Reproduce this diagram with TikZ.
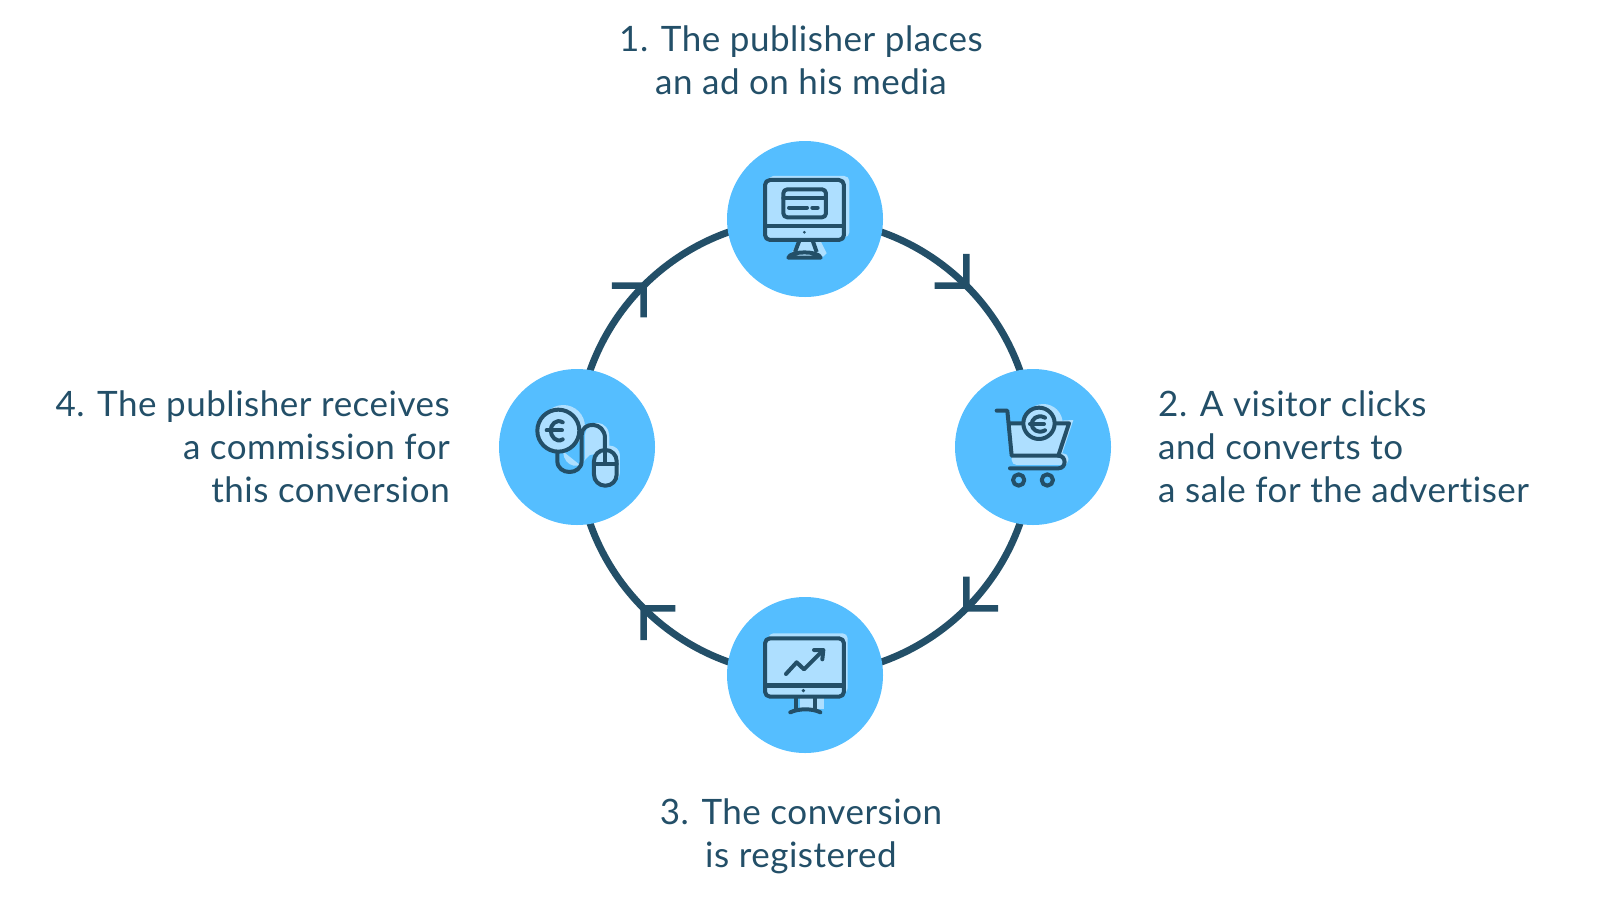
\documentclass[tikz,border=0pt]{standalone}
\usepackage{fontspec}
\setmainfont[LetterSpace=1.5,Ligatures=NoCommon]{Lato}
\usetikzlibrary{backgrounds,decorations.markings}
\definecolor{dk}{HTML}{234F68}
\definecolor{blu}{HTML}{55BEFF}
\definecolor{lit}{HTML}{AEDFFF}
\tikzset{
  x=1pt,y=-1pt,
  disc/.style={circle,fill=blu,draw=none,minimum size=156pt,inner sep=0pt},
  lbl/.style={text=dk,inner sep=0pt,font=\fontsize{35}{43}\selectfont},
  ringarc/.style={draw=dk,line width=7pt,postaction={decorate},
    decoration={markings,mark=at position 0.5 with {
      \draw[dk,line width=6.5pt,line cap=butt,line join=miter] (-22.5,22.5)--(0,0)--(-22.5,-22.5);}}},
  ico/.style={draw=dk,line width=4pt,line cap=round,line join=round},
  zoomed/.style={x=0.3333pt,y=-0.3333pt},
}
\begin{document}
\begin{tikzpicture}
\useasboundingbox (0,0) rectangle (1600,900);
\node[disc] (ntop) at (805,219) {};
\node[disc] (nright) at (1033,447) {};
\node[disc] (nbottom) at (805,675) {};
\node[disc] (nleft) at (577,447) {};
\begin{pgfonlayer}{background}
\path[ringarc] (ntop.center) to[out=0,in=90] (nright.center);
\path[ringarc] (nright.center) to[out=-90,in=0] (nbottom.center);
\path[ringarc] (nbottom.center) to[out=180,in=-90] (nleft.center);
\path[ringarc] (nleft.center) to[out=90,in=180] (ntop.center);
\end{pgfonlayer}
% labels
\node[lbl,align=center] (t1) at (801,60) {1. The publisher places\\an ad on his media};
\node[lbl,align=left,anchor=west] (t2) at (1158,447) {2. A visitor clicks\\and converts to\\a sale for the advertiser};
\node[lbl,align=center] (t3) at (801,836.5) {3. The conversion\\is registered};
\node[lbl,align=right,anchor=east] (t4) at (450,447) {4. The publisher receives\\a commission for\\this conversion};
% icon 1
\begin{scope}[shift={(700,130)},zoomed]
\fill[lit,rounded corners=5pt] (205,138) rectangle (448,322);
\fill[lit] (300,320)--(355,320)--(380,370)--(370,380)--(270,380)--cycle;
\draw[ico,fill=lit,rounded corners=5pt] (195,150) rectangle (432,330);
\draw[ico] (197,287)--(430,287);
\draw[ico,line cap=butt] (298,332) -- (285,366) (338,332) -- (350,366);
\draw[ico] (265,383) .. controls (272,362) and (355,362) .. (362,383) -- cycle;
\fill[dk] (313,307) circle (4.5);
\draw[ico,rounded corners=4pt] (250,178) rectangle (378,262);
\draw[ico] (250,205)--(378,205);
\draw[ico] (267,233)--(321,233) (337,233)--(353,233);
\end{scope}
% icon 2
\begin{scope}[shift={(930,355)},zoomed]
\fill[lit] (340,205) circle (58);
\fill[lit] (240,205)--(430,195)--(395,300)--(245,300)--cycle;
\fill[lit,rounded corners=5pt] (245,295) rectangle (415,330);
\draw[ico] (237,205)--(279,205) (375,205)--(417,205)--(385,302);
\draw[ico] (200,167)--(232,167)--(245,302)--(385,302) .. controls (410,302) and (410,340) .. (385,340) -- (240,340);
\draw[ico,fill=lit] (327,205) circle (47);
\draw[ico] (345,188) .. controls (320,175) and (305,195) .. (305,207) .. controls (305,222) and (322,238) .. (345,226);
\draw[ico] (300,207)--(342,207);
\draw[ico] (266,375) circle (17) (352,375) circle (17);
\end{scope}
% icon 3
\begin{scope}[shift={(700,580)},zoomed]
\fill[lit,rounded corners=5pt] (205,160) rectangle (443,340);
\fill[lit] (300,340) rectangle (372,388);
\draw[ico,fill=lit,rounded corners=5pt] (195,175) rectangle (432,350);
\draw[ico,line width=5pt,line cap=butt] (197,315)--(430,315);
\fill[dk] (310,332) circle (5.5);
\draw[ico] (258,282)--(290,247)--(312,268)--(368,212);
\draw[ico] (342,210)--(370,210)--(367,238);
\draw[ico,line cap=butt] (288,352)--(288,390) (345,352)--(345,390);
\draw[ico] (271,397) .. controls (295,385) and (338,385) .. (361,397);
\end{scope}
% icon 4
\begin{scope}[shift={(480,355)},zoomed]
\fill[lit] (250,215) circle (65);
\fill[lit] (250,290) .. controls (250,340) and (310,345) .. (315,310) -- (315,240) .. controls (320,190) and (390,190) .. (388,250) -- (388,290) -- (330,300) -- (300,330) -- cycle;
\fill[lit,rounded corners=10pt] (352,272) rectangle (420,382);
\draw[ico] (232,290)--(232,318) .. controls (232,362) and (305,362) .. (305,318) -- (305,240) .. controls (305,198) and (375,198) .. (375,250) -- (375,285);
\draw[ico,fill=lit] (235,227) circle (63);
\draw[ico,fill=lit,rounded corners=11pt] (342,285) rectangle (410,392);
\draw[ico] (342,327)--(410,327) (375,285)--(375,327);
\draw[ico] (248,202) .. controls (228,190) and (212,210) .. (212,226) .. controls (212,245) and (230,265) .. (248,253);
\draw[ico] (200,226)--(246,226);
\end{scope}
\end{tikzpicture}
\end{document}
